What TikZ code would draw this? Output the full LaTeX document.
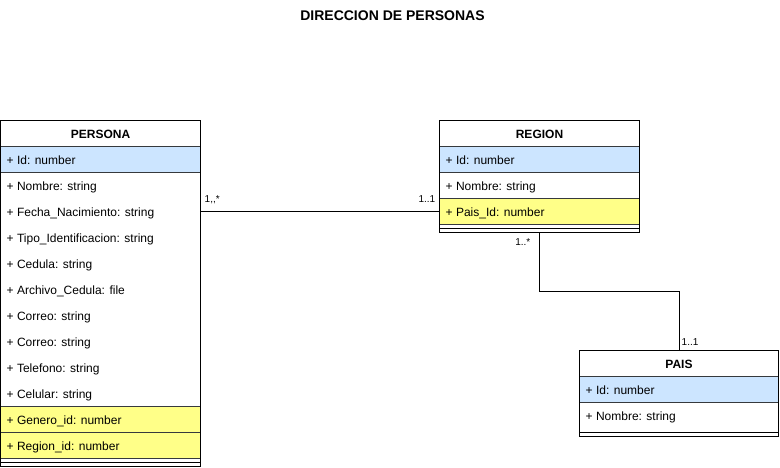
\documentclass[tikz,border=0pt]{standalone}
\usepackage{fontspec}
\setmainfont{Liberation Sans}
\usetikzlibrary{calc}
\definecolor{rowblue}{HTML}{CCE5FF}
\definecolor{rowyellow}{HTML}{FFFF88}
\definecolor{rowline}{HTML}{36393D}
\tikzset{
  classbox/.style={draw=black, line width=1pt, fill=white, inner sep=0pt, outer sep=0pt, anchor=north west, minimum width=200pt},
  boxline/.style={draw=black, line width=1pt},
  headtext/.style={font=\fontsize{12}{14}\selectfont\bfseries, anchor=base, inner sep=0pt},
  rowbox/.style={anchor=north west, inner sep=0pt, outer sep=0pt, minimum width=200pt, minimum height=26pt},
  bluerow/.style={rowbox, fill=rowblue, draw=rowline, line width=1pt},
  yellowrow/.style={rowbox, fill=rowyellow, draw=rowline, line width=1pt},
  plainrow/.style={rowbox},
  attrtext/.style={font=\fontsize{12}{14}\selectfont, anchor=base west, inner sep=0pt},
  mult/.style={font=\fontsize{10}{12}\selectfont, inner sep=0pt},
  conn/.style={draw=black, line width=1pt},
  titletext/.style={font=\fontsize{14}{16}\selectfont\bfseries, anchor=base, inner sep=0pt}
}
\newcommand\umlrow[6]{%
  \node[#4, minimum width=#6pt] (#1) at (#2,#3) {};
  \node[attrtext] (#1t) at ([xshift=6pt,yshift=-4.5pt]#1.west) {#5};
}
\begin{document}
\begin{tikzpicture}[x=1pt,y=-1pt]
\useasboundingbox (0,0) rectangle (780,467);
\begin{scope}[shift={(0.5,0.5)}]
\node[titletext] (title) at (392,19.5) {DIRECCION DE PERSONAS};

% PERSONA
\node[classbox, minimum height=346pt] (persona) at (0,120) {};
\node[headtext] (personah) at (100,137.5) {PERSONA};
\umlrow{pid}{0}{146}{bluerow}{+ Id: number}{200}
\umlrow{pnombre}{0}{172}{plainrow}{+ Nombre: string}{200}
\umlrow{pfecha}{0}{198}{plainrow}{+ Fecha\_Nacimiento: string}{200}
\umlrow{ptipo}{0}{224}{plainrow}{+ Tipo\_Identificacion: string}{200}
\umlrow{pcedula}{0}{250}{plainrow}{+ Cedula: string}{200}
\umlrow{parchivo}{0}{276}{plainrow}{+ Archivo\_Cedula: file}{200}
\umlrow{pcorreoa}{0}{302}{plainrow}{+ Correo: string}{200}
\umlrow{pcorreob}{0}{328}{plainrow}{+ Correo: string}{200}
\umlrow{ptelefono}{0}{354}{plainrow}{+ Telefono: string}{200}
\umlrow{pcelular}{0}{380}{plainrow}{+ Celular: string}{200}
\umlrow{pgenero}{0}{406}{yellowrow}{+ Genero\_id: number}{200}
\umlrow{pregion}{0}{432}{yellowrow}{+ Region\_id: number}{200}
\draw[boxline] ([yshift=-4pt]pregion.south west) -- ([yshift=-4pt]pregion.south east);
\draw[boxline] (persona.north west) rectangle (persona.south east);

% REGION
\node[classbox, minimum height=112pt] (region) at (439,120) {};
\node[headtext] (regionh) at (539,137.5) {REGION};
\umlrow{rid}{439}{146}{bluerow}{+ Id: number}{200}
\umlrow{rnombre}{439}{172}{plainrow}{+ Nombre: string}{200}
\umlrow{rpais}{439}{198}{yellowrow}{+ Pais\_Id: number}{200}
\draw[boxline] ([yshift=-4pt]rpais.south west) -- ([yshift=-4pt]rpais.south east);
\draw[boxline] (region.north west) rectangle (region.south east);

% PAIS
\node[classbox, minimum width=199pt, minimum height=86pt] (pais) at (579,350) {};
\node[headtext] (paish) at (678.5,367.5) {PAIS};
\umlrow{aid}{579}{376}{bluerow}{+ Id: number}{199}
\umlrow{anombre}{579}{402}{plainrow}{+ Nombre: string}{199}
\draw[boxline] ([yshift=-4pt]anombre.south west) -- ([yshift=-4pt]anombre.south east);
\draw[boxline] (pais.north west) rectangle (pais.south east);

% connectors
\draw[conn] (pfecha.east) -- (rpais.west);
\draw[conn] (region.south) -- ++(0,59) -| (pais.north);

% multiplicities
\node[mult, anchor=base west] (m1) at (204,202) {1,{},*};
\node[mult, anchor=base east] (m2) at (435,202) {1..1};
\node[mult, anchor=base east] (m3) at (530,245) {1..*};
\node[mult, anchor=base west] (m4) at (681,345) {1..1};
\end{scope}
\end{tikzpicture}
\end{document}
